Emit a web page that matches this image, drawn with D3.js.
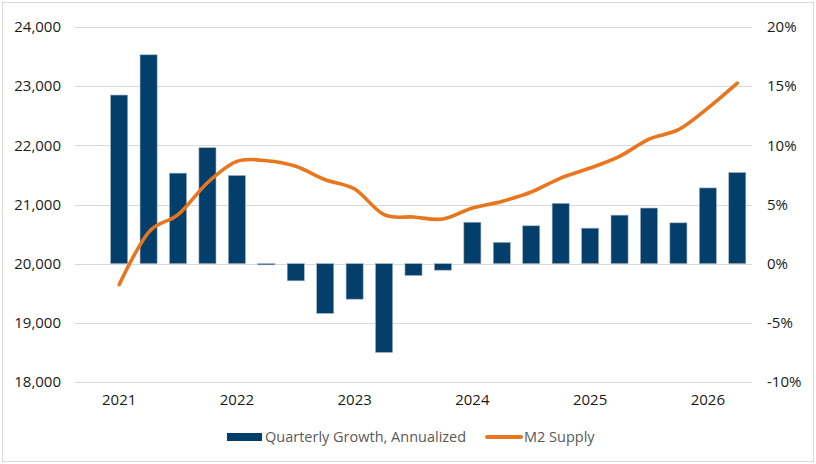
<!DOCTYPE html>
<html><head><meta charset="utf-8">
<script src="https://cdn.jsdelivr.net/npm/d3@7/dist/d3.min.js"></script>
<style>
html,body{margin:0;padding:0;background:#fff;}
svg text{font-family:"Open Sans",Arial,sans-serif;}
</style></head>
<body><svg id="c" width="816" height="464"></svg>
<script>
const quarters = ["2020Q4","2021Q1","2021Q2","2021Q3","2021Q4","2022Q1","2022Q2","2022Q3","2022Q4","2023Q1","2023Q2","2023Q3","2023Q4","2024Q1","2024Q2","2024Q3","2024Q4","2025Q1","2025Q2","2025Q3","2025Q4","2026Q1","2026Q2"];
const growth = [null,14.25,17.65,7.65,9.8,7.45,-0.1,-1.45,-4.2,-3.0,-7.5,-1.0,-0.55,3.5,1.8,3.2,5.1,3.0,4.1,4.7,3.45,6.4,7.7];
const m2 = [null,19645,20530,20828,21368,21728,21740,21645,21419,21262,20828,20789,20755,20941,21052,21211,21447,21616,21813,22106,22264,22630,23052];
const leftTicks = [18000,19000,20000,21000,22000,23000,24000];
const rightTicks = [-10,-5,0,5,10,15,20];
const yearLabels = {"2021Q1":"2021","2022Q1":"2022","2023Q1":"2023","2024Q1":"2024","2025Q1":"2025","2026Q1":"2026"};
const seriesNames = ["Quarterly Growth, Annualized","M2 Supply"];

const svg = d3.select("#c");
const W=816,H=464;
const m = {l:75, r:64, t:27, b:82};
const x = d3.scaleBand().domain(quarters).range([m.l, W-m.r]).paddingInner(0.42).paddingOuter(0.21);
const yL = d3.scaleLinear().domain([18000,24000]).range([H-m.b, m.t]);
const yR = d3.scaleLinear().domain([-10,20]).range([H-m.b, m.t]);

svg.append("rect").attr("x",2.5).attr("y",2.5).attr("width",W-5).attr("height",H-5)
  .attr("fill","#fff").attr("stroke","#d9d9d9").attr("stroke-width",1);

// gridlines
svg.append("g").selectAll("line").data(leftTicks).join("line")
  .attr("x1",m.l).attr("x2",W-m.r)
  .attr("y1",d=>Math.round(yL(d))+0.5).attr("y2",d=>Math.round(yL(d))+0.5)
  .attr("stroke","#d9d9d9").attr("stroke-width",1);

// left axis
const axL = d3.axisLeft(yL).tickValues(leftTicks).tickFormat(d3.format(",")).tickSize(0).tickPadding(14);
const gL = svg.append("g").attr("transform",`translate(${m.l},0)`).call(axL);
gL.select(".domain").remove();
gL.selectAll("text").attr("font-size",15).attr("fill","#1a1a1a");

// right axis
const axR = d3.axisRight(yR).tickValues(rightTicks).tickFormat(d=>d+"%").tickSize(0).tickPadding(15);
const gR = svg.append("g").attr("transform",`translate(${W-m.r},0)`).call(axR);
gR.select(".domain").remove();
gR.selectAll("text").attr("font-size",15).attr("fill","#1a1a1a");

// x axis
const axX = d3.axisBottom(x).tickValues(Object.keys(yearLabels)).tickFormat(d=>yearLabels[d]).tickSize(0).tickPadding(12);
const gX = svg.append("g").attr("transform",`translate(0,${H-m.b})`).call(axX);
gX.select(".domain").remove();
gX.selectAll("text").attr("font-size",15).attr("fill","#1a1a1a");

// bars
const data = quarters.map((q,i)=>({q, g:growth[i], v:m2[i]}));
svg.append("g").selectAll("rect").data(data.filter(d=>d.g!==null)).join("rect")
  .attr("x",d=>x(d.q)).attr("width",x.bandwidth())
  .attr("y",d=>Math.min(yR(d.g),yR(0))).attr("height",d=>Math.abs(yR(d.g)-yR(0)))
  .attr("fill","#043f6b").attr("stroke","#9fb0c2").attr("stroke-width",0.6);

// line
const line = d3.line().defined(d=>d.v!==null).x(d=>x(d.q)+x.bandwidth()/2).y(d=>yL(d.v)).curve(d3.curveCatmullRom.alpha(0));
svg.append("path").datum(data).attr("d",line).attr("fill","none")
  .attr("stroke","#e8761f").attr("stroke-width",3.6).attr("stroke-linecap","round").attr("stroke-linejoin","round");

// legend
const lg = svg.append("g");
const ly = 437;
lg.append("rect").attr("x",227).attr("y",ly-4).attr("width",35).attr("height",8).attr("fill","#043f6b");
lg.append("text").attr("x",265).attr("y",ly).attr("dy","0.35em").attr("font-size",14.5).attr("fill","#595959").text(seriesNames[0]);
lg.append("line").attr("x1",487).attr("x2",521).attr("y1",ly).attr("y2",ly).attr("stroke","#e8761f").attr("stroke-width",4).attr("stroke-linecap","round");
lg.append("text").attr("x",524).attr("y",ly).attr("dy","0.35em").attr("font-size",14.5).attr("fill","#595959").text(seriesNames[1]);
</script></body></html>
